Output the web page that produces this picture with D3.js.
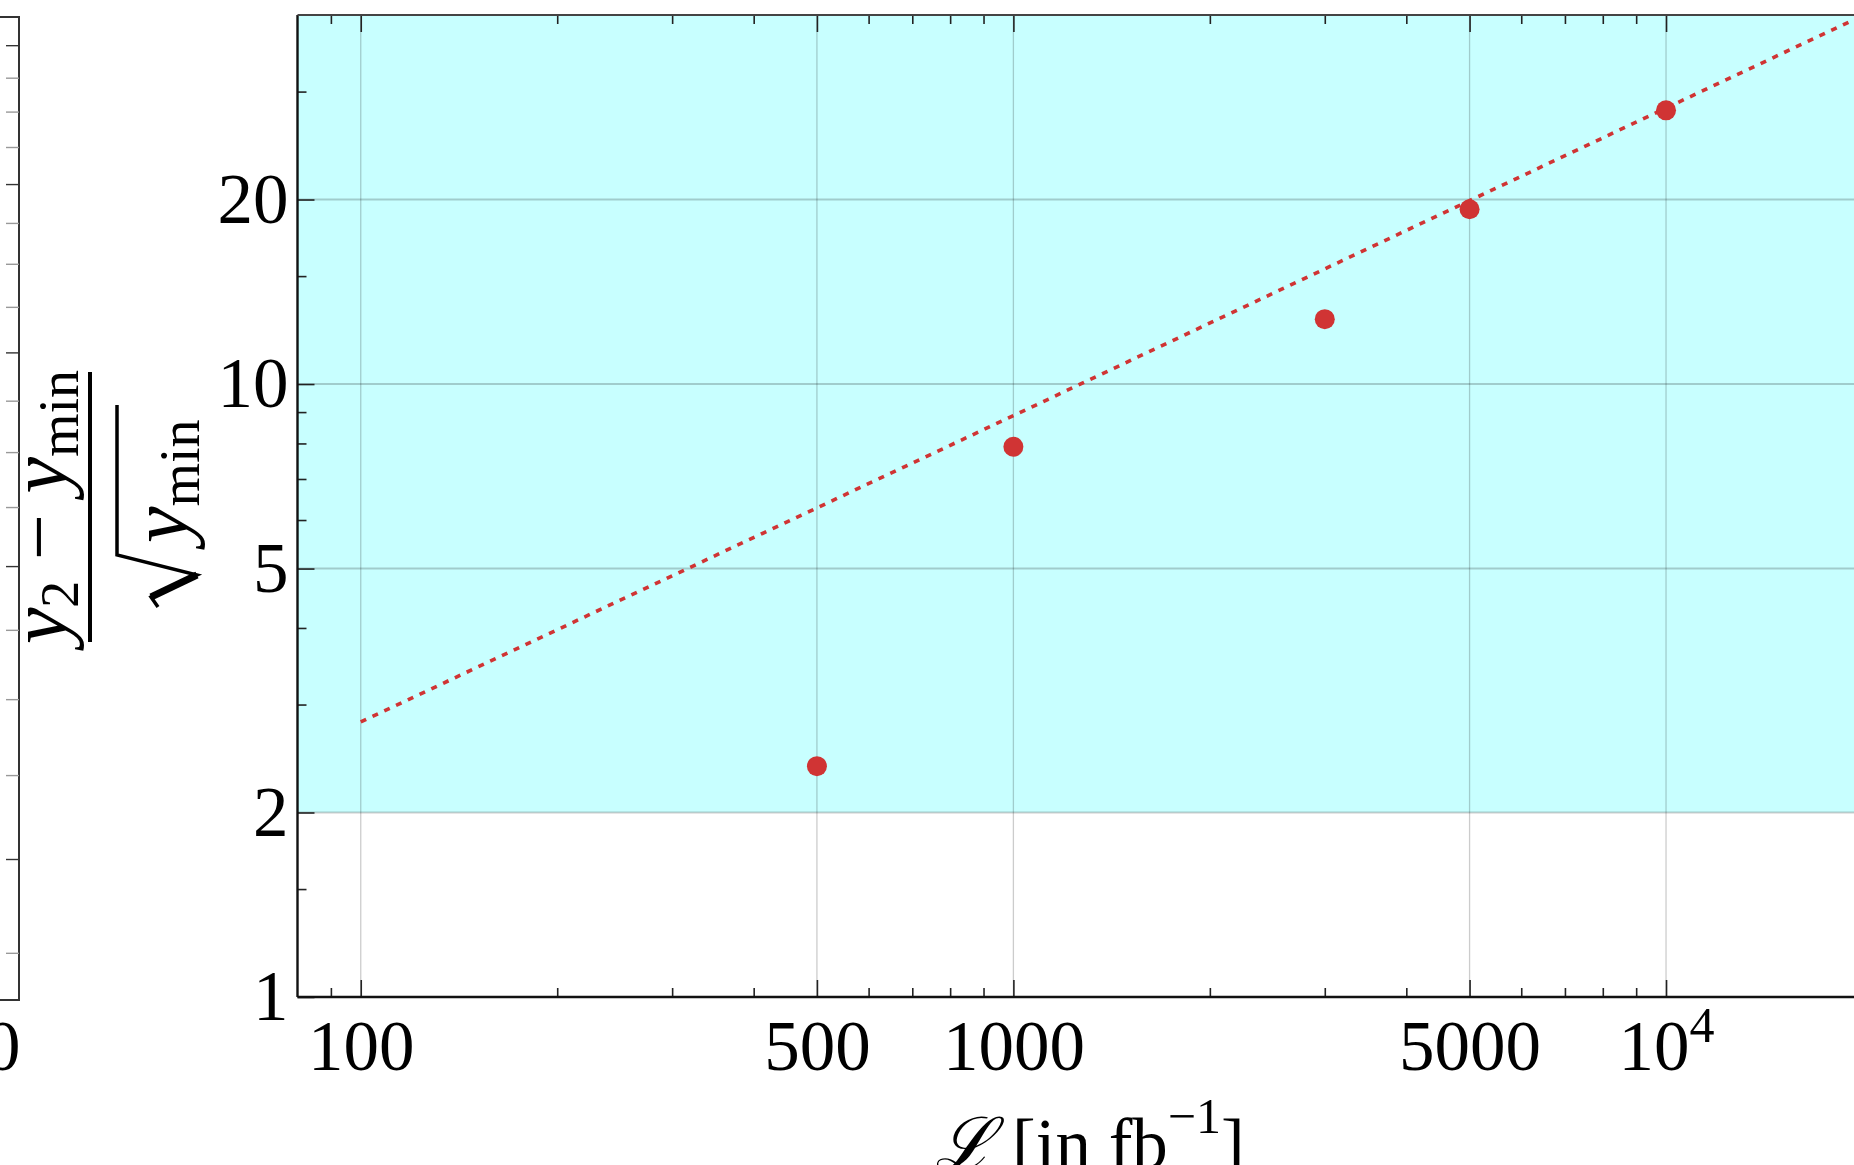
<!DOCTYPE html>
<html><head><meta charset="utf-8">
<script src="https://cdn.jsdelivr.net/npm/d3@7"></script>
<style>html,body{margin:0;padding:0;background:#fff;overflow:hidden}</style>
</head><body><svg id="c" width="1854" height="1165"></svg>
<script>
// ---- data ----
const lumi = [500, 1000, 3000, 5000, 10000];
const significance = [2.38, 7.9, 12.76, 19.28, 27.96];
const fitLumi = [100, 1000, 10000, 20000];
const fitSignificance = [2.81, 8.88, 28.2, 39.9];
const thresholdBand = [2, 40];
const xMajorTicks = [100, 500, 1000, 5000, 10000];
const xMajorLabels = ["100", "500", "1000", "5000", "10^4"];
const xMinorTicks = [90, 200, 300, 400, 600, 700, 800, 900, 2000, 3000, 4000, 6000, 7000, 8000, 9000];
const yMajorTicks = [1, 2, 5, 10, 20];
const yMajorLabels = ["1", "2", "5", "10", "20"];
const yMinorTicks = [1.5, 3, 4, 6, 7, 8, 9, 15, 30];
const leftPanelTicks = [8, 9, 10, 11, 12, 13, 14, 15, 16, 17, 18, 19, 20, 21, 22, 23, 24, 25];

const FONT = "'Liberation Serif','DejaVu Serif',serif";
const RED = "#d03434";
const svg = d3.select("#c");

// ---- scales ----
const x = d3.scaleLog().domain([80, 20000]).range([297.5, 1862.5]);
const y = d3.scaleLog().domain([1, 40]).range([997, 15]);
const yLeft = d3.scaleLog().domain([7.54, 25.9]).range([1000, 17]);

const plotL = x.range()[0], plotR = 1854, plotT = y.range()[1], plotB = y.range()[0];

svg.append("defs").append("clipPath").attr("id", "plotclip")
  .append("rect").attr("x", plotL).attr("y", plotT).attr("width", plotR - plotL).attr("height", plotB - plotT);

const plot = svg.append("g").attr("clip-path", "url(#plotclip)");

// cyan band y >= 2
plot.append("rect")
  .attr("x", plotL).attr("width", plotR - plotL)
  .attr("y", y(thresholdBand[1])).attr("height", y(thresholdBand[0]) - y(thresholdBand[1]))
  .attr("fill", "rgb(200,255,255)");

// grid lines
plot.selectAll("line.vg").data(xMajorTicks).join("line").attr("class", "vg")
  .attr("x1", d => x(d)).attr("x2", d => x(d)).attr("y1", plotT).attr("y2", plotB)
  .attr("stroke", "rgba(0,0,0,0.2)").attr("stroke-width", 1.3);
plot.selectAll("line.hg").data(yMajorTicks.filter(d => d > 1)).join("line").attr("class", "hg")
  .attr("x1", plotL).attr("x2", plotR).attr("y1", d => y(d)).attr("y2", d => y(d))
  .attr("stroke", "rgba(0,0,0,0.2)").attr("stroke-width", 2);

// fit line (dotted)
const fitData = fitLumi.map((l, i) => [l, fitSignificance[i]]);
plot.append("path").datum(fitData)
  .attr("d", d3.line().x(d => x(d[0])).y(d => y(d[1])))
  .attr("fill", "none").attr("stroke", RED).attr("stroke-width", 3.6)
  .attr("stroke-dasharray", "6,7");

// points
const pts = lumi.map((l, i) => [l, significance[i]]);
plot.selectAll("circle.pt").data(pts).join("circle").attr("class", "pt")
  .attr("cx", d => x(d[0])).attr("cy", d => y(d[1])).attr("r", 10).attr("fill", RED);

// ---- axes ----
const axisStyle = g => {
  g.select(".domain").remove();
  g.selectAll(".tick line").attr("stroke", "#222").attr("stroke-width", 1.6);
  g.selectAll(".tick text").attr("font-family", FONT).attr("font-size", 71).attr("fill", "#000");
};

// bottom
const gxMaj = svg.append("g").attr("transform", `translate(0,${plotB})`)
  .call(d3.axisBottom(x).tickValues(xMajorTicks).tickSizeInner(-17).tickSizeOuter(0).tickPadding(23)
    .tickFormat((d, i) => xMajorLabels[i]))
  .call(axisStyle);
gxMaj.selectAll(".tick text").each(function (d, i) {
  const lab = xMajorLabels[i];
  if (lab.includes("^")) {
    const [b, e] = lab.split("^");
    const t = d3.select(this).text(b);
    t.append("tspan").attr("dy", -28).attr("font-size", 50).text(e);
  }
});
svg.append("g").attr("transform", `translate(0,${plotB})`)
  .call(d3.axisBottom(x).tickValues(xMinorTicks).tickSizeInner(-9).tickSizeOuter(0).tickFormat(""))
  .call(axisStyle);
// top
svg.append("g").attr("transform", `translate(0,${plotT})`)
  .call(d3.axisTop(x).tickValues(xMajorTicks).tickSizeInner(-17).tickSizeOuter(0).tickFormat(""))
  .call(axisStyle);
svg.append("g").attr("transform", `translate(0,${plotT})`)
  .call(d3.axisTop(x).tickValues(xMinorTicks).tickSizeInner(-9).tickSizeOuter(0).tickFormat(""))
  .call(axisStyle);
// left
svg.append("g").attr("transform", `translate(${plotL},0)`)
  .call(d3.axisLeft(y).tickValues(yMajorTicks).tickSizeInner(-17).tickSizeOuter(0).tickPadding(9)
    .tickFormat((d, i) => yMajorLabels[i]))
  .call(axisStyle);
svg.append("g").attr("transform", `translate(${plotL},0)`)
  .call(d3.axisLeft(y).tickValues(yMinorTicks).tickSizeInner(-9).tickSizeOuter(0).tickFormat(""))
  .call(axisStyle);

// frame
svg.append("line").attr("x1", plotL).attr("x2", plotR).attr("y1", plotB).attr("y2", plotB)
  .attr("stroke", "#111").attr("stroke-width", 2.4);
svg.append("line").attr("x1", plotL).attr("x2", plotL).attr("y1", plotT).attr("y2", plotB)
  .attr("stroke", "#111").attr("stroke-width", 2.4);
svg.append("line").attr("x1", plotL).attr("x2", plotR).attr("y1", plotT).attr("y2", plotT)
  .attr("stroke", "#444").attr("stroke-width", 1.8);

// ---- neighbouring panel (cropped at left edge) ----
const lp = svg.append("g");
lp.append("path")
  .attr("d", `M0,${yLeft.range()[1]} H19 V${yLeft.range()[0]} H0`)
  .attr("fill", "none").attr("stroke", "#333").attr("stroke-width", 2);
lp.append("g").attr("transform", "translate(19,0)")
  .call(d3.axisRight(yLeft).tickValues(leftPanelTicks).tickSizeInner(-13).tickSizeOuter(0).tickFormat(""))
  .call(g => { g.select(".domain").remove(); g.selectAll(".tick line").attr("stroke", (d) => d % 4 === 1 ? "#333" : "#999").attr("stroke-width", 1.4); });
lp.append("text").attr("x", -15).attr("y", 1070).attr("font-family", FONT).attr("font-size", 71).text("0");

// ---- axis titles ----
const xl = svg.append("text").attr("x", 1090).attr("y", 1168).attr("text-anchor", "middle")
  .attr("font-family", FONT).attr("font-size", 71).attr("fill", "#000");
xl.append("tspan").attr("font-style", "italic").text("ℒ");
xl.append("tspan").text(" [in fb");
xl.append("tspan").attr("font-size", 50).attr("dy", -35).text("−1");
xl.append("tspan").attr("dy", 35).text("]");

const yl = svg.append("g").attr("transform", "translate(90,507) rotate(-90)")
  .attr("font-family", FONT).attr("fill", "#000");
const num = yl.append("text").attr("x", 0).attr("y", -24).attr("text-anchor", "middle").attr("font-size", 82);
num.append("tspan").attr("font-style", "italic").text("y");
num.append("tspan").attr("font-size", 54).attr("dy", 12).text("2");
num.append("tspan").attr("dy", -12).text(" − ");
num.append("tspan").attr("font-style", "italic").text("y");
num.append("tspan").attr("font-size", 56).attr("dy", 12).text("min");
yl.append("line").attr("x1", -135).attr("x2", 135).attr("y1", 0).attr("y2", 0)
  .attr("stroke", "#000").attr("stroke-width", 4);
yl.append("path").attr("d", "M-100,68 L-90,61 L-68,107 L-48,27 L102,27")
  .attr("fill", "none").attr("stroke", "#000").attr("stroke-width", 3.5).attr("stroke-linejoin", "miter");
yl.append("path").attr("d", "M-90,61 L-68,107")
  .attr("fill", "none").attr("stroke", "#000").attr("stroke-width", 7);
const den = yl.append("text").attr("x", -36).attr("y", 97).attr("font-size", 82);
den.append("tspan").attr("font-style", "italic").text("y");
den.append("tspan").attr("font-size", 56).attr("dy", 12).text("min");
</script></body></html>
